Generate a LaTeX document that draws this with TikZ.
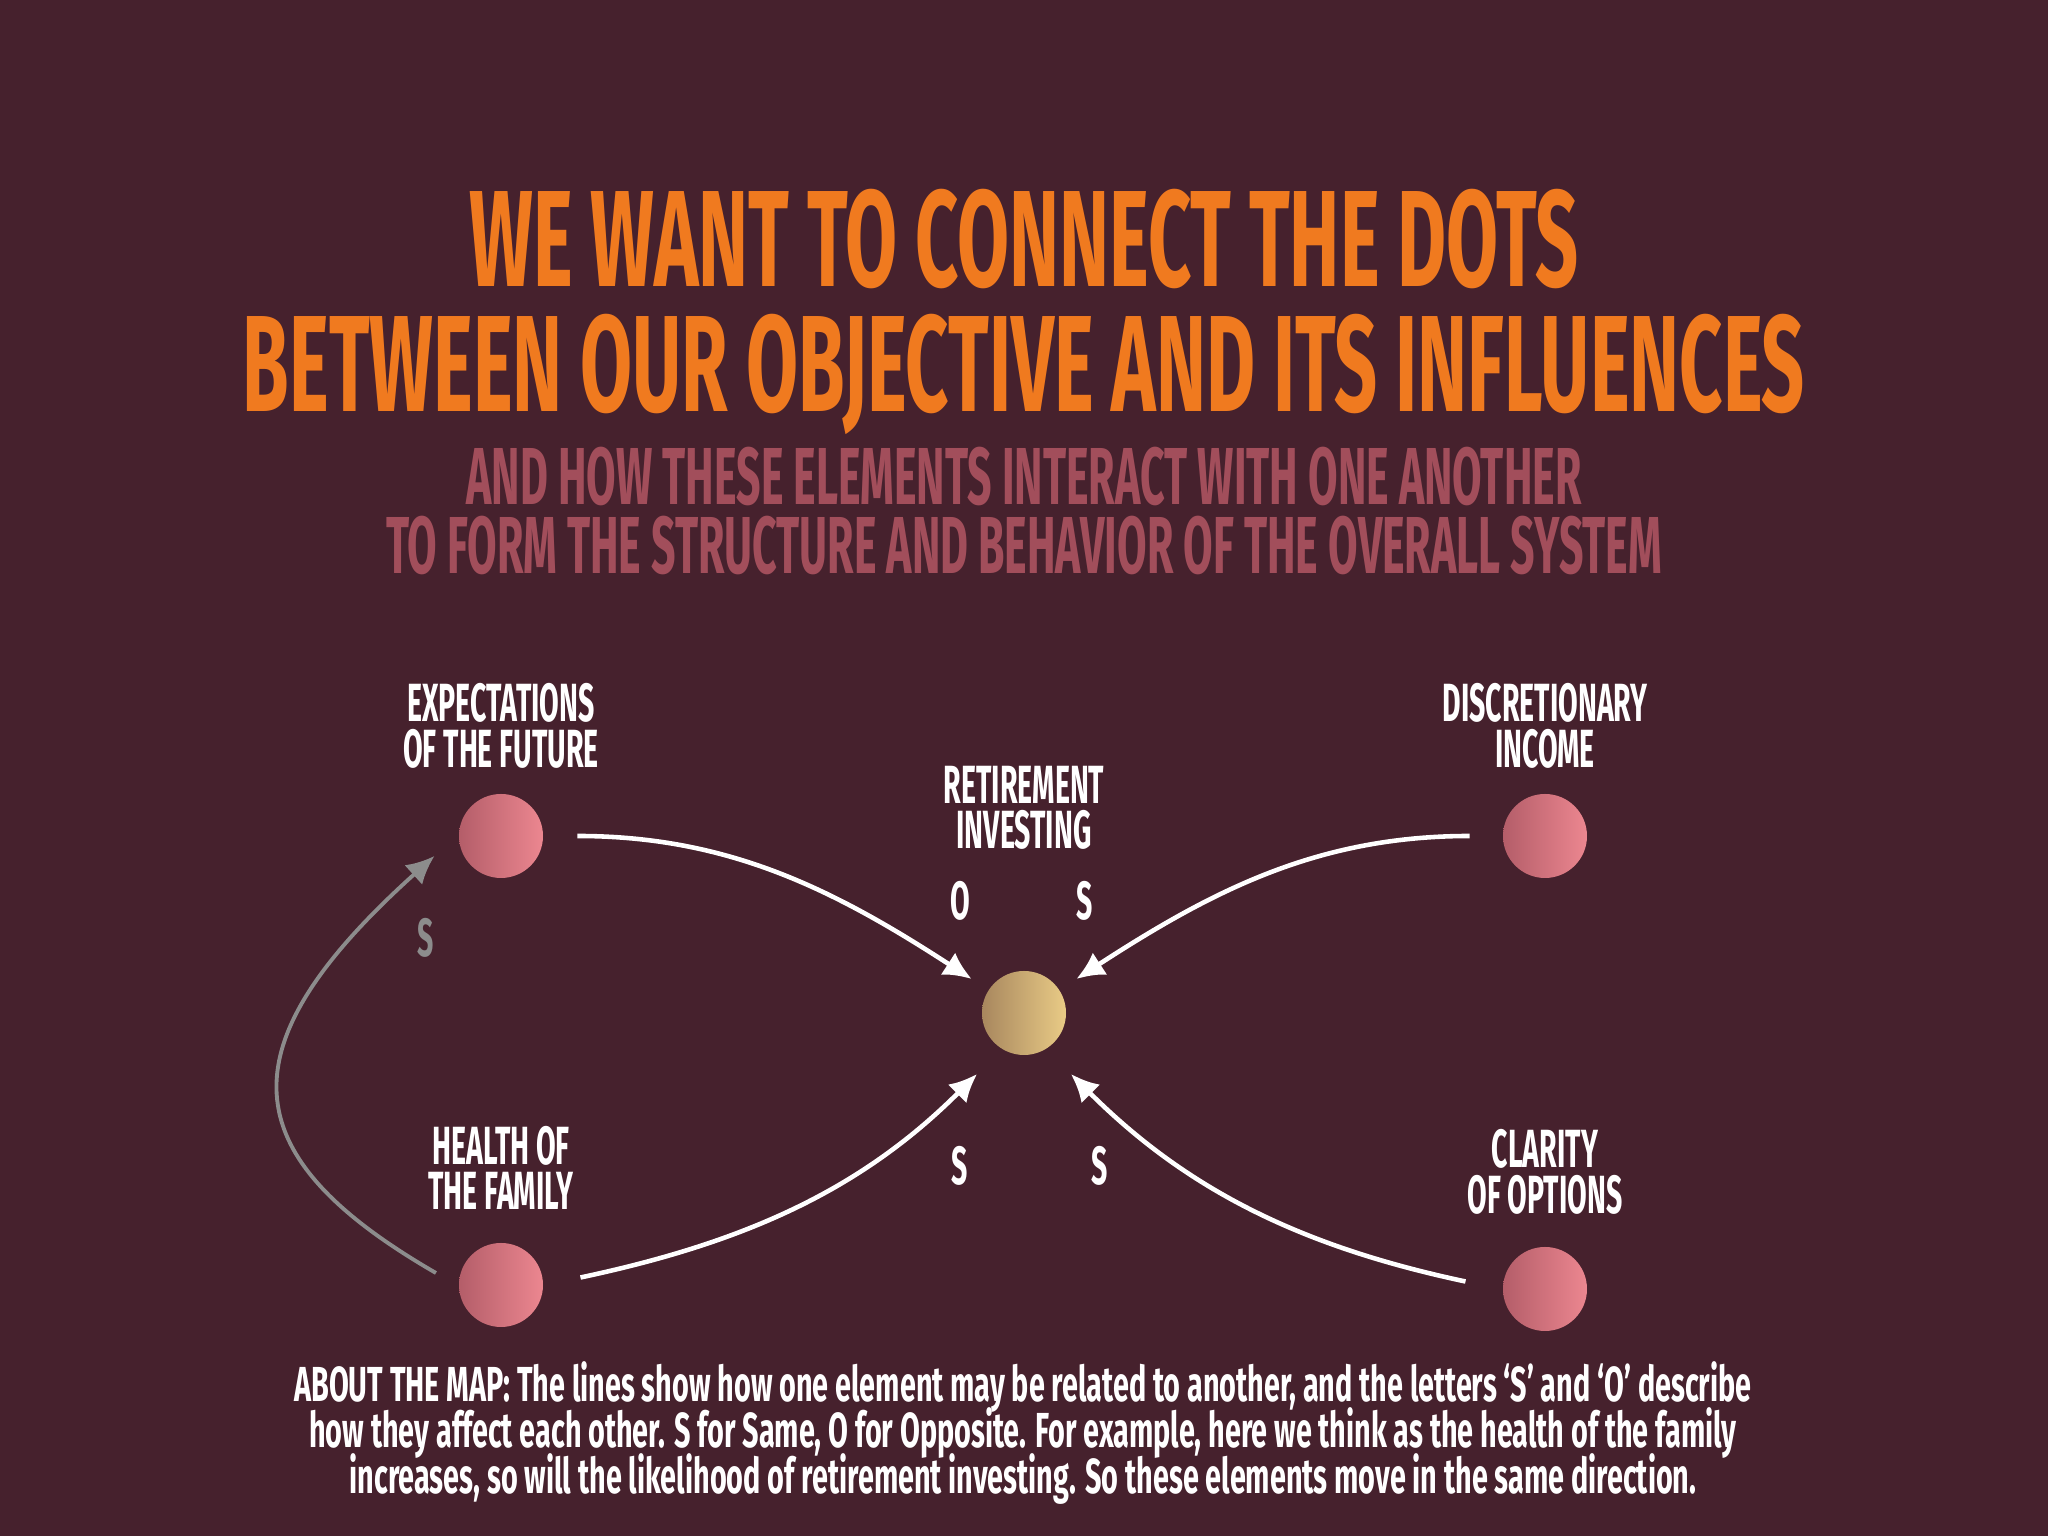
\documentclass[tikz,border=0pt]{standalone}
\usepackage{fontspec}
\usepackage[dvipsnames]{xcolor}
\usetikzlibrary{positioning,arrows.meta}

\newfontfamily\gothic[FakeStretch=0.53]{Fira Sans}
\newfontfamily\gothictitle[FakeStretch=0.55]{Fira Sans}
\newfontfamily\gothicnote[FakeStretch=0.585]{Fira Sans}

\definecolor{bgmaroon}{HTML}{46212D}
\definecolor{titleorange}{HTML}{F07A1F}
\definecolor{subrose}{HTML}{A24E5B}
\definecolor{pinkdark}{HTML}{B45D69}
\definecolor{pinklight}{HTML}{EC8790}
\definecolor{golddark}{HTML}{A8875E}
\definecolor{goldlight}{HTML}{E9CB86}
\definecolor{loopgray}{HTML}{8C8C8C}

\begin{document}
\lineskiplimit=-5pt
\begin{tikzpicture}[->,>={Latex[length=8pt,width=7.5pt]},line width=1.3pt,node distance=1.1cm,
    main node/.style={circle,minimum size=0.84cm,inner sep=0pt,left color=pinkdark,right color=pinklight},
    gold node/.style={circle,minimum size=0.84cm,inner sep=0pt,left color=golddark,right color=goldlight},
    label node/.style={align=center,text=white,font=\gothic\bfseries\fontsize{15.3}{13}\selectfont},
    sign node/.style={text=white,font=\gothic\bfseries\fontsize{15.3}{13}\selectfont}]

    \fill[bgmaroon] (0,0) rectangle (20.48,15.36);
    \useasboundingbox (0,0) rectangle (20.48,15.36);

    % heading
    \node[align=center,text=titleorange,font=\gothictitle\bfseries\fontsize{39}{35.6}\selectfont] (title) at (10.24,12.24)
        {WE WANT TO CONNECT THE DOTS\\BETWEEN OUR OBJECTIVE AND ITS INFLUENCES};
    \node[align=center,text=subrose,font=\gothic\bfseries\fontsize{23}{19.6}\selectfont] (subtitle) at (10.24,10.25)
        {AND HOW THESE ELEMENTS INTERACT WITH ONE ANOTHER\\TO FORM THE STRUCTURE AND BEHAVIOR OF THE OVERALL SYSTEM};

    % the map
    \node[main node] (exp) at (5.01,7.00) {};
    \node[main node] (disc) at (15.45,7.00) {};
    \node[gold node] (ret) at (10.24,5.23) {};
    \node[main node] (health) at (5.01,2.51) {};
    \node[main node] (clar) at (15.45,2.47) {};

    \node[label node] (expl) [above of = exp] {EXPECTATIONS\\OF THE FUTURE};
    \node[label node] (discl) [above of = disc] {DISCRETIONARY\\INCOME};
    \node[label node] (retl) [above of = ret, node distance=2.05cm] {RETIREMENT\\INVESTING};
    \node[label node] (healthl) [above of = health, node distance=1.17cm] {HEALTH OF\\THE FAMILY};
    \node[label node] (clarl) [above of = clar, node distance=1.17cm] {CLARITY\\OF OPTIONS};

    \draw[white,shorten <=0.32cm,shorten >=0.18cm] (exp.east) to[out=0,in=147] (ret.147);
    \draw[white,shorten <=0.31cm,shorten >=0.18cm] (disc.west) to[out=180,in=33] (ret.33);
    \draw[white,shorten <=0.36cm,shorten >=0.33cm] (health.east) to[out=12,in=225] (ret.238);
    \draw[white,shorten <=0.36cm,shorten >=0.33cm] (clar.west) to[out=168,in=315] (ret.302);
    \draw[loopgray,line width=1.1pt,shorten <=0.24cm,shorten >=0.3cm] (health.west) .. controls +(150:2.6) and +(222:3.15) .. (exp.west);

    \node[sign node] (o1) at (9.60,6.35) {O};
    \node[sign node] (s1) at (10.85,6.35) {S};
    \node[sign node] (s2) at (9.60,3.70) {S};
    \node[sign node] (s3) at (11.00,3.70) {S};
    \node[sign node,text=loopgray] (s4) at (4.26,5.98) {S};

    % note
    \node[align=center,text=white,font=\gothicnote\bfseries\fontsize{14}{13}\selectfont] (note) at (10.23,1.03)
        {ABOUT THE MAP: The lines show how one element may be related to another, and the letters ‘S’ and ‘O’ describe\\
         how they affect each other. S for Same, O for Opposite. For example, here we think as the health of the family\\
         increases, so will the likelihood of retirement investing. So these elements move in the same direction.};
\end{tikzpicture}
\end{document}
